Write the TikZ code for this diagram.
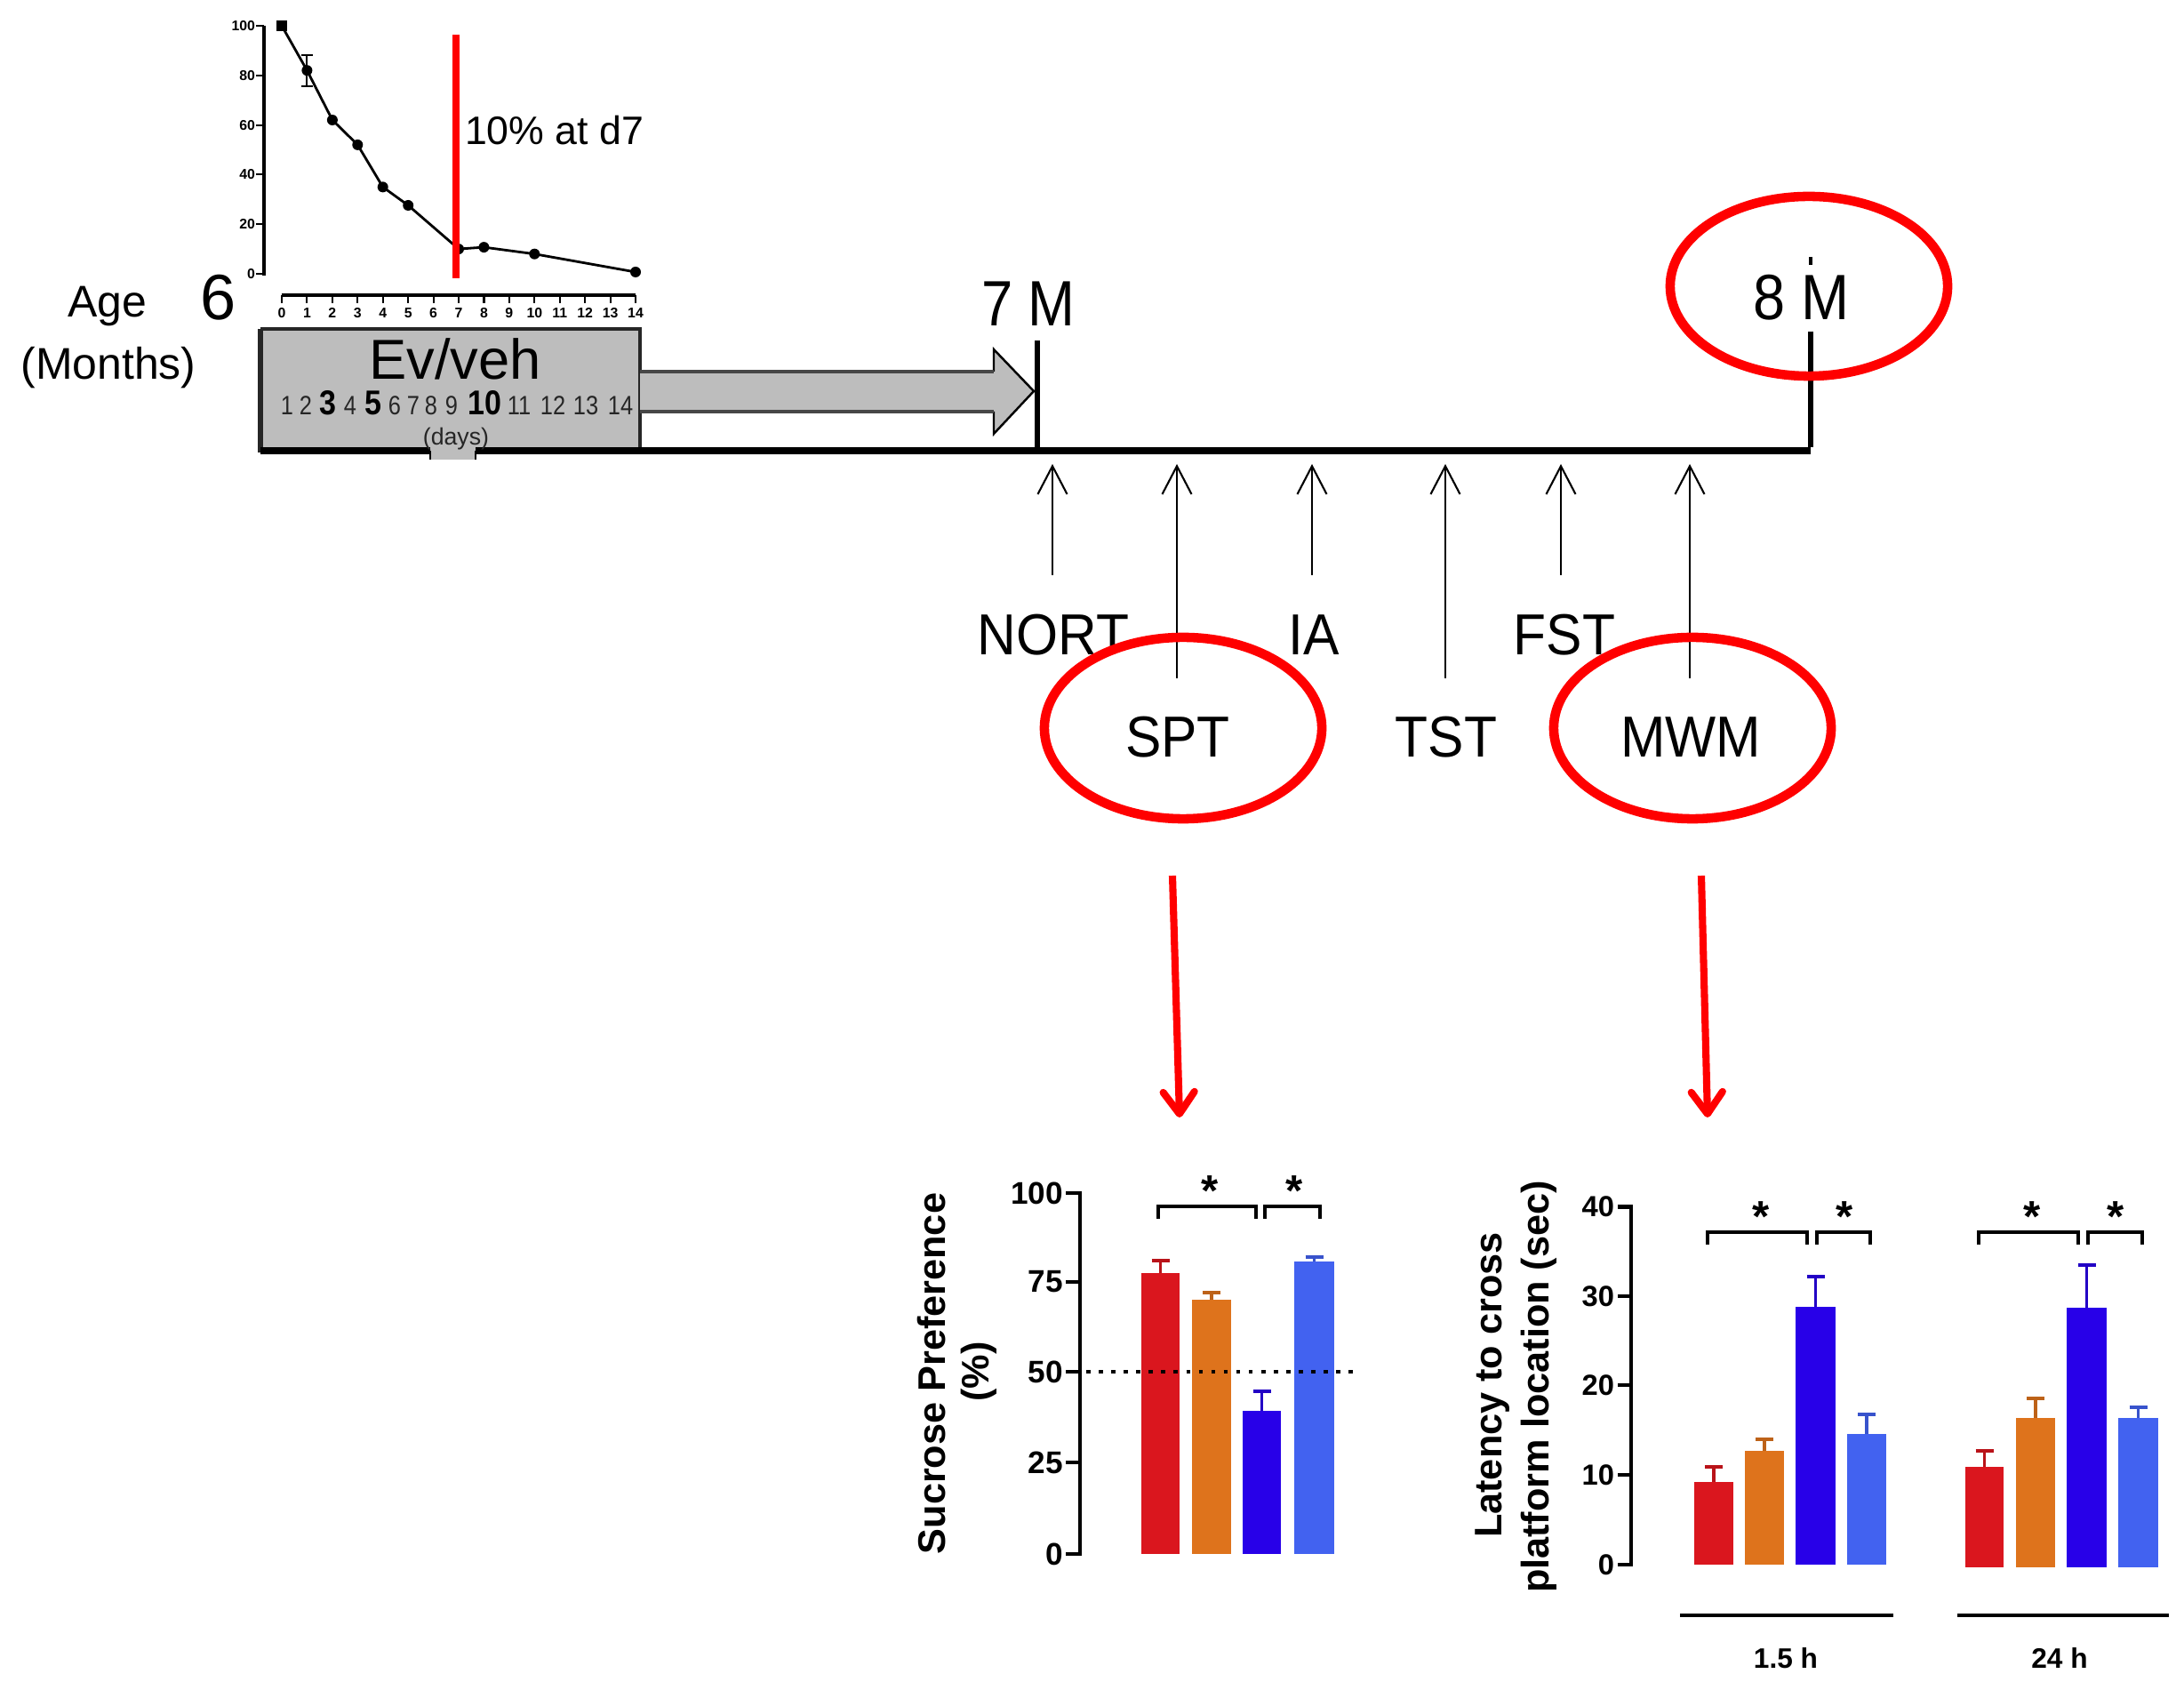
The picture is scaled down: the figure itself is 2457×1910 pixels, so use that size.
\documentclass[tikz,border=0pt]{standalone}
\usepackage{fontspec}
\setmainfont{Liberation Sans}
\usetikzlibrary{arrows.meta,shapes.geometric}
\newcommand{\fsz}[1]{\fontsize{#1}{#1}\selectfont}
\newcommand{\condtxt}[2]{\scalebox{#1}[1]{#2}}
\definecolor{boxgray}{RGB}{189,189,189}
\definecolor{ringred}{RGB}{255,0,0}
\definecolor{bred}{RGB}{218,22,30}
\definecolor{bora}{RGB}{222,115,28}
\definecolor{bdbl}{RGB}{40,0,232}
\definecolor{blbl}{RGB}{66,98,240}
\newcommand{\drawbar}[6]{%
  \fill[#6] (#1,#3) rectangle (#2,#4);
  \pgfmathsetmacro\cx{(#1+#2)/2}
  \draw[ebar,draw=#6!85!black] (\cx,#4) -- (\cx,#5) (\cx-10,#5) -- (\cx+10,#5);
}
\begin{document}
\begin{tikzpicture}[x=0.01cm,y=-0.01cm,
  txt/.style={inner sep=0pt, outer sep=0pt},
  tarrow/.style={line width=0.6pt,-{Straight Barb[length=9pt,width=9.4pt]}},
  ring/.style={ellipse, draw=ringred, line width=3pt, minimum width=3.12cm, minimum height=2.04cm, inner sep=0pt},
  redarrow/.style={draw=ringred, line width=2.3pt, -{Straight Barb[length=7pt,width=10pt,round]}},
  axisln/.style={line width=1.4pt},
  ebar/.style={line width=1.1pt},
  brk/.style={line width=1.1pt},
  star/.style={txt, anchor=base, font=\fsz{14}\bfseries},
  tlone/.style={txt, anchor=east, font=\fsz{10}\bfseries},
  tltwo/.style={txt, anchor=east, font=\fsz{9.3}\bfseries},
  tinylbl/.style={txt, font=\fsz{4.5}\bfseries},
  testlbl/.style={txt, anchor=base, font=\fsz{18.5}},
]
\useasboundingbox (0,0) rectangle (2457,1910);
\fill[white] (0,0) rectangle (2457,1910);

% ---------- small survival plot ----------
\draw[line width=0.9pt] (297,29) -- (297,310);
\foreach \v in {0,20,40,60,80,100} {
  \pgfmathsetmacro\yy{308-2.79*\v}
  \draw[line width=0.6pt] (288,\yy) -- (297,\yy);
  \node[tinylbl, anchor=east] (yl\v) at (287,\yy) {\v};
}
\draw[line width=0.9pt] (317,332) -- (715,332);
\foreach \d in {0,...,14} {
  \pgfmathsetmacro\xx{317+28.43*\d}
  \draw[line width=0.6pt] (\xx,332) -- (\xx,341);
  \node[tinylbl] (xl\d) at (\xx,352) {\d};
}
\draw[line width=0.8pt] (317,29) -- (345.4,79.2) -- (373.9,135) -- (402.3,162.9) -- (430.7,210.4) -- (459.2,231) -- (516,280.1) -- (544.4,278.1) -- (601.3,285.7) -- (715,306);
\draw[line width=0.6pt] (345.4,62) -- (345.4,97) (339,62) -- (352,62) (339,97) -- (352,97);
\fill (311,23) rectangle (323,35);
\foreach \p in {(345.4,79.2),(373.9,135),(402.3,162.9),(430.7,210.4),(459.2,231),(516,280.1),(544.4,278.1),(601.3,285.7),(715,306)} {
  \fill \p circle (0.06cm);
}
\draw[ringred, line width=2.3pt] (513,39) -- (513,313);
\node[txt, anchor=base west, font=\fsz{12.7}] (pct) at (523,163) {10\% at d7};

% ---------- age labels ----------
\node[txt, anchor=base, font=\fsz{14.2}] (age) at (121,357) {Age};
\node[txt, anchor=base, font=\fsz{14.2}] (months) at (122,427) {(Months)};
\node[txt, anchor=base, font=\fsz{20.5}] (six) at (246,360) {6};
\node[txt, anchor=base, font=\fsz{20.5}] (seven) at (1157,367) {\condtxt{0.88}{7 M}};
\node[txt, anchor=base, font=\fsz{20.5}] (eight) at (2027,360) {\condtxt{0.9}{8 M}};

% ---------- Ev/veh box ----------
\coordinate (tl0) at (293,507);
\coordinate (tl7) at (1167,507);
\coordinate (tl8) at (2037,507);
\fill[boxgray] (293,370) rectangle (720,507);
\fill[boxgray] (484,503) rectangle (535,517);
\draw[line width=1.1pt, black!85] (293,370) -- (720,370) -- (720,507);
\draw[line width=1.8pt, black!85] (293,509) -- (293,370);
\draw[line width=2.3pt] (293,507) -- (484,507) (535,507) -- (720,507);
\draw[line width=0.8pt] (484,507) -- (484,517) (535,507) -- (535,517);
\node[txt, anchor=base, font=\fsz{18}] (ev) at (512,427) {Ev/veh};
\foreach \xx/\d/\b in {323/1/0,344/2/0,369/3/1,394/4/0,420/5/1,444/6/0,465/7/0,485/8/0,508/9/0,545/10/1,584/11/0,622/12/0,659/13/0,698/14/0} {
  \ifnum\b=1
    \node[txt, anchor=base, font=\fsz{11}\bfseries] (dy\d) at (\xx,467) {\condtxt{0.88}{\d}};
  \else
    \node[txt, anchor=base, font=\fsz{8.5}, text=black!85] (dy\d) at (\xx,467) {\condtxt{0.85}{\d}};
  \fi
}
\node[txt, anchor=base, font=\fsz{7.6}, text=black!85] (days) at (513,501) {(days)};

% ---------- block arrow ----------
\fill[boxgray] (720,418) -- (1118,418) -- (1118,393) -- (1163,440) -- (1118,488) -- (1118,463) -- (720,463) -- cycle;
\draw[line width=0.7pt] (1118,418) -- (1118,393) -- (1163,440) -- (1118,488) -- (1118,463);
\draw[line width=1.4pt, black!72] (720,418) -- (1118,418) (720,463) -- (1118,463);

% ---------- timeline ----------
\draw[line width=2.3pt] (tl0 -| 720,0) -- (tl8);
\draw[line width=1.5pt] (1167,383) -- (tl7);
\draw[line width=1.6pt] (2037,373) -- ([yshift=1.1pt]tl8);
\draw[line width=0.9pt] (2037,289) -- (2037,298);

% ---------- tests ----------
\node[testlbl] (nort) at (1185,737) {\condtxt{0.93}{NORT}};
\node[testlbl] (ia) at (1478,737) {\condtxt{0.93}{IA}};
\node[testlbl] (fst) at (1760,737) {\condtxt{0.93}{FST}};
\node[testlbl] (spt) at (1325,852) {\condtxt{0.93}{SPT}};
\node[testlbl] (tst) at (1627,852) {\condtxt{0.93}{TST}};
\node[testlbl] (mwm) at (1902,852) {\condtxt{0.93}{MWM}};
\foreach \n/\xx/\yb in {nort/1184/647, spt/1324/763, ia/1476/647, tst/1626/763, fst/1756/647, mwm/1901/763} {
  \coordinate (b\n) at (\xx,\yb);
  \coordinate (t\n) at (\xx,522);
  \draw[tarrow] (b\n) -- (t\n);
}

% ---------- red rings ----------
\node[ring] (ringspt) at (1331,819) {};
\node[ring] (ringmwm) at (1904,819) {};
\node[ring, minimum height=2.02cm] (ring8) at (2035,322) {};
\coordinate (r1s) at (1319,985);
\coordinate (r1e) at (1327,1257);
\coordinate (r2s) at (1914,985);
\coordinate (r2e) at (1921,1257);
\draw[redarrow] (r1s) -- (r1e);
\draw[redarrow] (r2s) -- (r2e);

% ---------- chart 1: sucrose preference ----------
\draw[axisln] (1215,1340) -- (1215,1750);
\foreach \v/\yy in {0/1748,25/1645,50/1543,75/1442,100/1342} {
  \draw[axisln] (1199,\yy) -- (1215,\yy);
  \node[tlone] (ca\v) at (1196,\yy) {\v};
}
\node[txt, rotate=90, font=\fsz{12.3}\bfseries] (sucl) at (1048,1545) {Sucrose Preference};
\node[txt, rotate=90, font=\fsz{12.3}\bfseries] (pctl) at (1101,1543) {(\%)};
\drawbar{1284}{1327}{1748}{1432}{1418}{bred}
\drawbar{1341}{1385}{1748}{1462}{1454}{bora}
\drawbar{1398}{1441}{1748}{1587}{1565}{bdbl}
\drawbar{1456}{1501}{1748}{1419}{1414}{blbl}
\draw[line width=1.3pt, dash pattern=on 1.3pt off 2.7pt] (1222,1543) -- (1525,1543);
\draw[brk] (1303,1371) -- (1303,1357) -- (1413,1357) -- (1413,1371);
\draw[brk] (1423,1371) -- (1423,1357) -- (1485,1357) -- (1485,1371);
\node[star] (s1a) at (1361,1356) {*};
\node[star] (s1b) at (1456,1356) {*};

% ---------- chart 2: MWM latency ----------
\draw[axisln] (1835,1355) -- (1835,1762);
\foreach \v/\yy in {0/1760,10/1659,20/1558,30/1458,40/1357.5} {
  \draw[axisln] (1820,\yy) -- (1835,\yy);
  \node[tltwo] (cb\v) at (1816,\yy) {\v};
}
\node[txt, rotate=90, font=\fsz{12.3}\bfseries] (latl) at (1679,1558) {Latency to cross};
\node[txt, rotate=90, font=\fsz{12.3}\bfseries] (platl) at (1731,1560) {platform location (sec)};
\drawbar{1906}{1950}{1760}{1667}{1650}{bred}
\drawbar{1963}{2007}{1760}{1632}{1619}{bora}
\drawbar{2020}{2065}{1760}{1470}{1436}{bdbl}
\drawbar{2078}{2122}{1760}{1613}{1591}{blbl}
\drawbar{2211}{2254}{1763}{1650}{1632}{bred}
\drawbar{2268}{2312}{1763}{1595}{1573}{bora}
\drawbar{2325}{2370}{1763}{1471}{1423}{bdbl}
\drawbar{2383}{2428}{1763}{1595}{1583}{blbl}
\draw[brk] (1921,1400) -- (1921,1386) -- (2033,1386) -- (2033,1400);
\draw[brk] (2044,1400) -- (2044,1386) -- (2104,1386) -- (2104,1400);
\draw[brk] (2226,1400) -- (2226,1386) -- (2338,1386) -- (2338,1400);
\draw[brk] (2349,1400) -- (2349,1386) -- (2410,1386) -- (2410,1400);
\node[star] (s2a) at (1981,1385) {*};
\node[star] (s2b) at (2075,1385) {*};
\node[star] (s2c) at (2286,1385) {*};
\node[star] (s2d) at (2380,1385) {*};
\coordinate (g1a) at (1890,1817);
\coordinate (g1b) at (2130,1817);
\coordinate (g2a) at (2202,1817);
\coordinate (g2b) at (2440,1817);
\draw[line width=1.4pt] (g1a) -- (g1b);
\draw[line width=1.4pt] (g2a) -- (g2b);
\node[txt, font=\fsz{9}\bfseries] (h15) at (2009,1865) {1.5 h};
\node[txt, font=\fsz{9}\bfseries] (h24) at (2317,1865) {24 h};
\end{tikzpicture}
\end{document}
